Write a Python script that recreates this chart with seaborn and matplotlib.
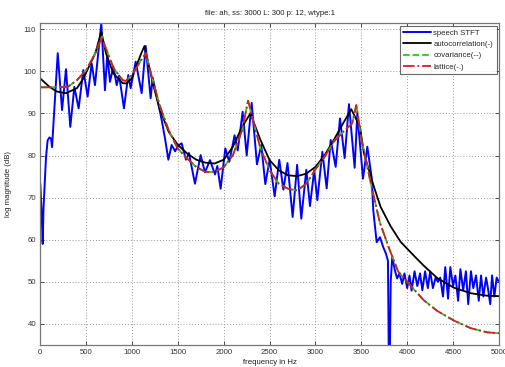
import numpy as np
import pandas as pd
import matplotlib
matplotlib.use("Agg")
import matplotlib.pyplot as plt
import seaborn as sns

# ---- data ----
stft_hz = [0, 15, 26, 35, 45, 62, 80, 100, 117, 128, 190, 237, 280, 327, 371, 418, 469, 516, 560, 596,
           665, 705, 730, 760, 796, 833, 860, 912, 959, 985, 1040, 1105, 1149, 1203, 1225, 1323, 1360,
           1396, 1432, 1470, 1500, 1541, 1588, 1620, 1686, 1748, 1795, 1850, 1905, 1930, 1966, 2017,
           2060, 2118, 2152, 2206, 2250, 2304, 2362, 2409, 2453, 2500, 2555, 2605, 2650, 2695, 2751,
           2800, 2845, 2900, 2940, 2986, 3020, 3075, 3122, 3166, 3220, 3267, 3318, 3365, 3427, 3456,
           3518, 3565, 3612, 3630, 3667, 3703, 3739, 3768, 3790, 3804, 3820, 3837, 3866, 3890, 3915,
           3945, 3970, 4000, 4025, 4048, 4080, 4110, 4140, 4165, 4195, 4225, 4250, 4280, 4310, 4335,
           4360, 4390, 4415, 4445, 4470, 4500, 4525, 4555, 4580, 4610, 4640, 4665, 4695, 4720, 4750,
           4780, 4805, 4830, 4860, 4880, 4905, 4925, 4950, 4975, 5000]
stft_db = [73.3, 66, 59, 67.5, 72, 79.5, 83.6, 84.3, 84, 82, 104.3, 90.8, 100.5, 86.8, 96.3, 91.2, 100.3, 94, 101.9, 96.7,
           111.4, 95.5, 103.9, 97.5, 101.1, 96.7, 99, 91.2, 99.1, 96, 102.3, 94.8, 106, 93.6, 98.5, 88.5, 84,
           79, 82.5, 81, 82.3, 82.9, 79, 80.6, 73.3, 80.1, 76, 78.9, 75.5, 77.5, 72.1, 81.7,
           78.5, 84.8, 81.2, 90.4, 80, 92.5, 77.9, 82.5, 73.2, 79, 70.3, 79, 71.9, 78.2, 65.4,
           77.8, 65, 76.6, 68, 76.5, 69.4, 80.9, 72.2, 83.7, 77.3, 88.8, 79.4, 92.2, 77.1, 90,
           74.5, 82.1, 74.9, 67, 59.4, 60.6, 58.2, 56.7, 55, 20, 50, 56, 52.7, 50.8, 52,
           49.5, 52, 48.5, 51.5, 47.9, 52.5, 49, 52, 48, 52.5, 48.5, 52.5, 48.5, 51, 50,
           51, 46.5, 53.5, 46, 53.5, 49, 51.5, 45.5, 53, 48, 52.5, 44.7, 52.5, 48.5, 51.5,
           45.5, 51.5, 46.5, 51, 48.5, 44.7, 51.5, 46.5, 51, 50]

auto_hz = [0, 100, 180, 280, 400, 469, 600, 665, 716, 796, 898, 941, 996, 1094, 1135, 1232, 1300, 1400,
           1500, 1600, 1700, 1800, 1900, 2000, 2100, 2200, 2290, 2400, 2500, 2600, 2700, 2800, 2900,
           3000, 3100, 3200, 3300, 3390, 3485, 3528, 3638, 3710, 3819, 3928, 4073, 4182, 4327, 4509,
           4691, 4872, 5000]
auto_db = [98.3, 96.3, 95.2, 94.8, 96, 98.3, 104.3, 109.4, 104.3, 99.5, 97.2, 97.1, 98.3, 103.9, 106, 96.7, 91.2, 85.6,
           82.5, 80.5, 79, 78.3, 78.1, 79, 82.1, 86.8, 90, 83.7, 78.9, 76.5, 75.3, 75.1, 75.7,
           77.3, 80.1, 83.7, 87.6, 91, 86.8, 80.5, 72.5, 67.8, 63.2, 59.5, 56.2, 53.8, 50.9, 48.6,
           47.3, 46.7, 46.6]

lpc_hz = [0, 100, 300, 400, 500, 600, 675, 700, 800, 898, 930, 1000, 1100, 1150, 1200, 1300, 1400, 1500,
          1600, 1700, 1800, 1900, 2000, 2100, 2200, 2265, 2300, 2400, 2500, 2600, 2700, 2800, 2900,
          3000, 3100, 3200, 3300, 3400, 3445, 3500, 3600, 3700, 3800, 3900, 4000, 4073, 4182, 4327,
          4509, 4691, 4872, 5000]
cov_db = [96.2, 96.2, 96.3, 97.9, 100.3, 104.3, 108.3, 106.3, 100.7, 97.9, 97.7, 99.1, 102.7, 104.3, 100, 92, 86, 81.6,
          79.3, 77.3, 76.1, 76.1, 77.2, 80.1, 86, 93, 90, 81.7, 76.5, 73.3, 72.1, 71.7, 73.3,
          76.7, 79.7, 83.3, 85.6, 87.6, 92, 84, 73.7, 64.2, 58.1, 52.5, 50, 48.2, 45.6, 43.1,
          40.8, 39, 38, 37.8]
lat_db = list(cov_db)

x_ticks = [0, 500, 1000, 1500, 2000, 2500, 3000, 3500, 4000, 4500, 5000]
y_ticks = [40, 50, 60, 70, 80, 90, 100, 110]

# ---- style ----
sns.set_theme(style="white")
plt.rcParams["font.family"] = ["Liberation Sans", "DejaVu Sans"]
FS = 5.6
plt.rcParams["font.size"] = FS

fig = plt.figure(figsize=(5.05, 3.67), dpi=100)
ax = fig.add_axes([0.0798, 0.06, 0.9082, 0.8765])

stft = pd.DataFrame({"f": stft_hz, "db": stft_db})
auto = pd.DataFrame({"f": auto_hz, "db": auto_db})
cov = pd.DataFrame({"f": lpc_hz, "db": cov_db})
lat = pd.DataFrame({"f": lpc_hz, "db": lat_db})

sns.lineplot(data=stft, x="f", y="db", ax=ax, color="#0000ff", lw=1.4, sort=False,
             estimator=None, label="speech STFT")
sns.lineplot(data=auto, x="f", y="db", ax=ax, color="black", lw=1.3, sort=False,
             estimator=None, label="autocorrelation(-)")
sns.lineplot(data=cov, x="f", y="db", ax=ax, color="#22cc22", lw=1.3, sort=False,
             estimator=None, label="covariance(--)", linestyle="--")
sns.lineplot(data=lat, x="f", y="db", ax=ax, color="#cc2222", lw=1.3, sort=False,
             estimator=None, label="lattice(-.)", linestyle="-.")

ax.set_xlim(0, 5000)
ax.set_ylim(35, 111.4)
ax.set_xticks(x_ticks)
ax.set_xticklabels([str(t) for t in x_ticks])
ax.set_yticks(y_ticks)
ax.set_yticklabels([str(t) for t in y_ticks])
ax.grid(True, linestyle=(0, (1, 2)), color="#999999", linewidth=0.7)
ax.tick_params(direction="in", top=True, right=True, length=3, width=0.6,
               labelsize=FS, colors="#333333", pad=3, bottom=True, left=True)
for s in ax.spines.values():
    s.set_color("#777777")
    s.set_linewidth(0.9)

ax.set_title("file: ah, ss: 3000 L: 300 p: 12, wtype:1", fontsize=FS, pad=6, color="#222222")
ax.set_xlabel("frequency in Hz", fontsize=FS, labelpad=2, color="#222222")
ax.set_ylabel("log magnitude (dB)", fontsize=FS, labelpad=8, color="#222222")

leg = ax.legend(loc="upper right", fontsize=FS, frameon=True, fancybox=False,
                borderaxespad=0.3, handlelength=3.6, handletextpad=0.3,
                labelspacing=0.5, borderpad=0.45)
leg.get_frame().set_edgecolor("#444444")
leg.get_frame().set_linewidth(0.8)

fig.savefig("out.png", dpi=100)
